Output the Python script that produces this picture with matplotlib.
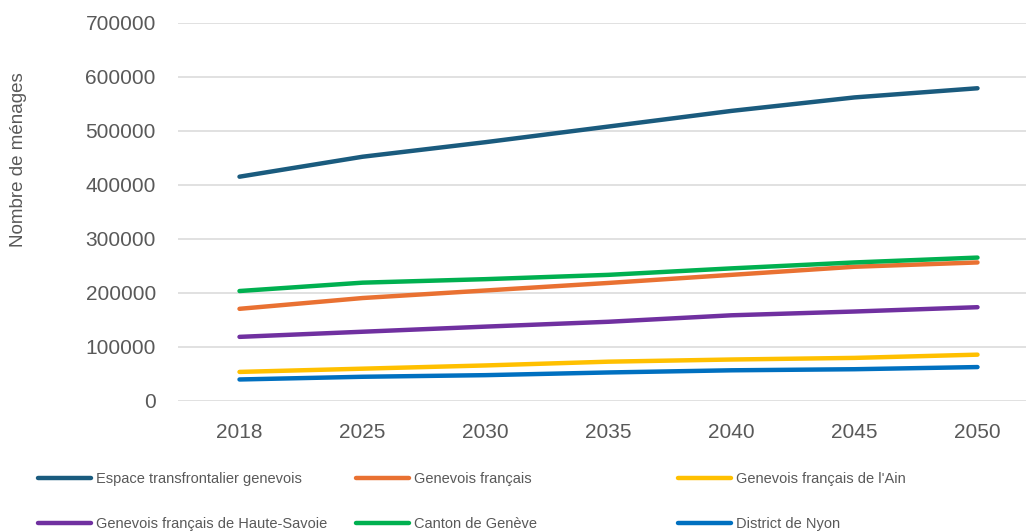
import matplotlib
matplotlib.use("Agg")
import matplotlib.pyplot as plt

plt.rcParams['font.family'] = ['Liberation Sans', 'DejaVu Sans']

years = ['2018', '2025', '2030', '2035', '2040', '2045', '2050']

series_names = [
    'Espace transfrontalier genevois',
    'Genevois français',
    "Genevois français de l'Ain",
    'Genevois français de Haute-Savoie',
    'Canton de Genève',
    'District de Nyon',
]

espace = [415000, 452000, 479000, 508000, 537000, 562000, 579000]
genevois_fr = [170000, 190000, 204000, 218000, 233000, 248000, 256000]
ain = [53000, 59000, 65000, 72000, 76000, 79000, 85000]
haute_savoie = [118000, 127500, 137000, 146000, 158000, 165000, 173000]
geneve = [203000, 218500, 225000, 233000, 245000, 256000, 265000]
nyon = [39000, 44000, 47000, 52000, 56000, 58000, 62000]

colors = ['#1A5B7E', '#E97132', '#FFC000', '#7030A0', '#00B050', '#0070C0']

fig = plt.figure(figsize=(10.26, 5.31), dpi=100)
ax = fig.add_axes([178 / 1026, 1 - 400.5 / 531, (1039 - 178) / 1026, (400.5 - 23) / 531])

x = range(len(years))
lines = []
for vals, name, c in zip([espace, genevois_fr, ain, haute_savoie, geneve, nyon],
                         series_names, colors):
    ln, = ax.plot(x, vals, color=c, lw=3.2, solid_capstyle='round', label=name)
    lines.append(ln)

ax.set_xlim(-0.5, 6.5)
ax.set_ylim(0, 700000)
ax.set_yticks(range(0, 700001, 100000))
ax.set_xticks(list(x))
ax.set_xticklabels(years)
ax.grid(axis='y', color='#D9D9D9', lw=1.1)
ax.set_axisbelow(True)
for s in ax.spines.values():
    s.set_visible(False)
ax.tick_params(length=0, labelsize=15, labelcolor='#595959')
ax.tick_params(axis='y', pad=16)
ax.tick_params(axis='x', pad=16)

ax.set_ylabel('Nombre de ménages', fontsize=13.5, color='#595959')
ax.yaxis.set_label_coords(-151 / 861, (400.5 - 160) / 377.5)

# legend laid out as three columns of two entries
col_x = [38, 356, 678]
for j in range(3):
    fig.legend([lines[j], lines[j + 3]], [series_names[j], series_names[j + 3]],
               loc='upper left', bbox_to_anchor=(col_x[j] / 1026, 1 - 472 / 531),
               frameon=False, fontsize=10.5, handlelength=3.6, handletextpad=0.4,
               labelspacing=2.1, borderpad=0, borderaxespad=0,
               labelcolor='#595959')

fig.savefig('out.png', dpi=100)
